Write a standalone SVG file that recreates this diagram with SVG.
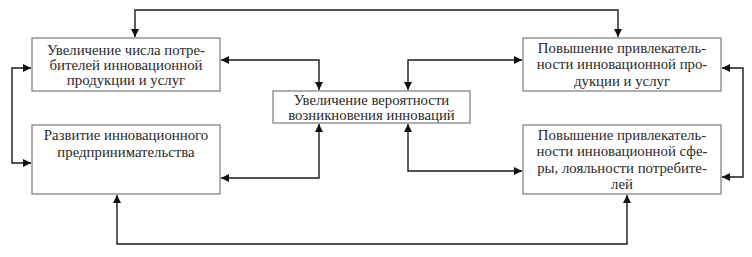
<svg xmlns="http://www.w3.org/2000/svg" width="752" height="257" viewBox="0 0 752 257">
<defs>
<marker id="ah" viewBox="0 0 10 10" refX="10" refY="5" markerWidth="9" markerHeight="8" markerUnits="userSpaceOnUse" orient="auto-start-reverse">
<path d="M0,0 L10,5 L0,10 z" fill="#111"/>
</marker>
<style>
.box{fill:#fff;stroke:#7a7a7a;stroke-width:1.2}
.t{font-family:"Liberation Serif","Times New Roman",serif;font-size:14.8px;fill:#2a2a2a;text-anchor:middle}
.c{fill:none;stroke:#1a1a1a;stroke-width:1.4;marker-start:url(#ah);marker-end:url(#ah)}
</style>
</defs>
<rect width="752" height="257" fill="#fff"/>
<g id="connectors">
<path class="c" d="M135,37 V10 H618 V37"/>
<path class="c" d="M221,60 H319 V90"/>
<path class="c" d="M522,60 H408 V90"/>
<path class="c" d="M319,124 V178 H221"/>
<path class="c" d="M408,124 V171 H522"/>
<path class="c" d="M117,195 V244 H627 V195"/>
<path class="c" d="M31,68 H12 V163 H31"/>
<path class="c" d="M722,68 H743 V177 H722"/>
</g>
<g id="n1">
<rect class="box" x="32" y="38" width="188" height="53"/>
<text class="t" x="126" y="55">Увеличение числа потре-</text>
<text class="t" x="126" y="70">бителей инновационной</text>
<text class="t" x="126" y="85">продукции и услуг</text>
</g>
<g id="n2">
<rect class="box" x="32" y="125" width="188" height="69"/>
<text class="t" x="126" y="140">Развитие инновационного</text>
<text class="t" x="126" y="157">предпринимательства</text>
</g>
<g id="n3">
<rect class="box" x="273" y="91" width="197" height="32"/>
<text class="t" x="371.5" y="105">Увеличение вероятности</text>
<text class="t" x="371.5" y="120">возникновения инноваций</text>
</g>
<g id="n4">
<rect class="box" x="523" y="38" width="198" height="53"/>
<text class="t" x="622" y="53">Повышение привлекатель-</text>
<text class="t" x="622" y="69">ности инновационной про-</text>
<text class="t" x="622" y="86">дукции и услуг</text>
</g>
<g id="n5">
<rect class="box" x="523" y="125" width="198" height="69"/>
<text class="t" x="622" y="140">Повышение привлекатель-</text>
<text class="t" x="622" y="156">ности инновационной сфе-</text>
<text class="t" x="622" y="173">ры, лояльности потребите-</text>
<text class="t" x="622" y="189">лей</text>
</g>
</svg>
